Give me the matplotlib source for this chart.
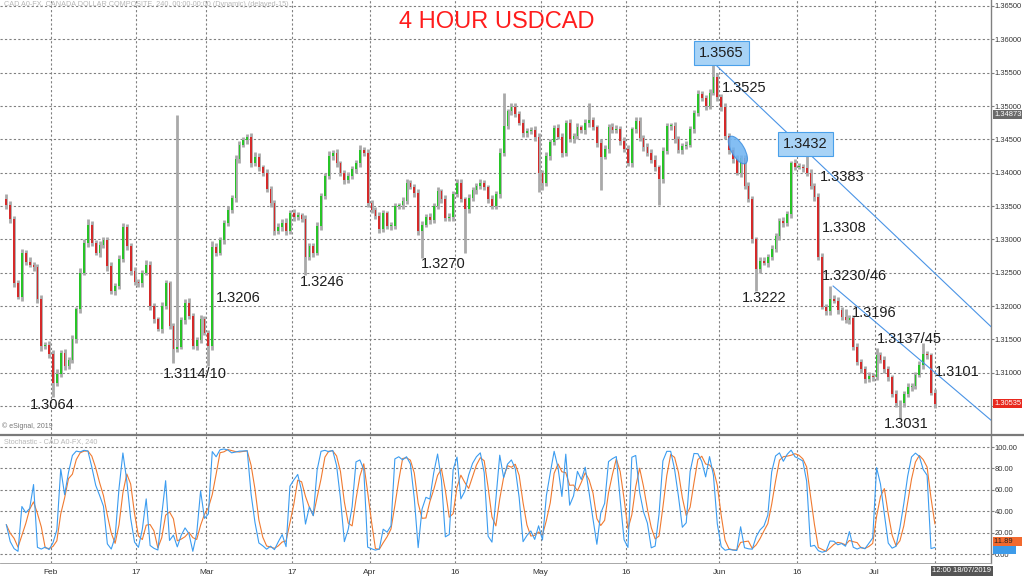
import numpy as np
import pandas as pd
import matplotlib
matplotlib.use('Agg')
import matplotlib.pyplot as plt
from matplotlib.patches import Ellipse
import matplotlib.transforms as mtransforms

plt.rcParams['font.family'] = ['Liberation Sans', 'DejaVu Sans']

# ---------------- data (half-day candles) ----------------
start_date = '2019-01-24'
first_open = 1.3360
closes = [
    1.3352, 1.3330, 1.3235, 1.3214, 1.3279, 1.3266, 1.3262, 1.3258, 1.3210, 1.3140,
    1.3142, 1.3128, 1.3085, 1.3098, 1.3130, 1.3110, 1.3119, 1.3150, 1.3195, 1.3250,
    1.3295, 1.3322, 1.3295, 1.3280, 1.3292, 1.3299, 1.3260, 1.3222, 1.3230, 1.3270,
    1.3318, 1.3290, 1.3252, 1.3236, 1.3234, 1.3250, 1.3262, 1.3200, 1.3180, 1.3166,
    1.3200, 1.3234, 1.3170, 1.3136, 1.3139, 1.3179, 1.3205, 1.3185, 1.3140, 1.3149,
    1.3180, 1.3160, 1.3140, 1.3289, 1.3280, 1.3299, 1.3325, 1.3344, 1.3362, 1.3420,
    1.3442, 1.3449, 1.3454, 1.3414, 1.3424, 1.3408, 1.3400, 1.3375, 1.3355, 1.3312,
    1.3319, 1.3325, 1.3312, 1.3340, 1.3334, 1.3336, 1.3330, 1.3274, 1.3290, 1.3280,
    1.3320, 1.3365, 1.3395, 1.3425, 1.3429, 1.3414, 1.3399, 1.3389, 1.3395, 1.3406,
    1.3414, 1.3434, 1.3429, 1.3354, 1.3344, 1.3335, 1.3316, 1.3339, 1.3320, 1.3320,
    1.3350, 1.3351, 1.3358, 1.3384, 1.3379, 1.3369, 1.3312, 1.3322, 1.3334, 1.3329,
    1.3350, 1.3372, 1.3360, 1.3332, 1.3334, 1.3368, 1.3385, 1.3360, 1.3345, 1.3362,
    1.3374, 1.3380, 1.3384, 1.3378, 1.3360, 1.3350, 1.3368, 1.3430, 1.3470, 1.3492,
    1.3499, 1.3488, 1.3475, 1.3459, 1.3462, 1.3464, 1.3454, 1.3400, 1.3384, 1.3425,
    1.3446, 1.3467, 1.3454, 1.3430, 1.3475, 1.3450, 1.3455, 1.3468, 1.3464, 1.3474,
    1.3479, 1.3468, 1.3445, 1.3424, 1.3436, 1.3469, 1.3464, 1.3466, 1.3448, 1.3436,
    1.3414, 1.3465, 1.3478, 1.3452, 1.3438, 1.3430, 1.3419, 1.3408, 1.3390, 1.3432,
    1.3470, 1.3470, 1.3450, 1.3434, 1.3440, 1.3442, 1.3465, 1.3490, 1.3518, 1.3512,
    1.3500, 1.3520, 1.3544, 1.3514, 1.3498, 1.3455, 1.3434, 1.3420, 1.3400, 1.3422,
    1.3380, 1.3360, 1.3300, 1.3255, 1.3268, 1.3265, 1.3274, 1.3285, 1.3305, 1.3328,
    1.3324, 1.3338, 1.3414, 1.3409, 1.3409, 1.3407, 1.3400, 1.3380, 1.3364, 1.3274,
    1.3199, 1.3192, 1.3210, 1.3208, 1.3194, 1.3184, 1.3179, 1.3182, 1.3139, 1.3116,
    1.3106, 1.3090, 1.3095, 1.3094, 1.3127, 1.3119, 1.3105, 1.3093, 1.3068, 1.3054,
    1.3054, 1.3068, 1.3079, 1.3080, 1.3097, 1.3112, 1.3128, 1.3126, 1.3070, 1.30535,
]
# upper / lower shadow lengths in pips
wick_up = [
    8, 6, 5, 4, 6, 5, 7, 4, 5, 6, 4, 5, 6, 7, 4, 6, 5, 6, 4, 7,
    6, 8, 5, 4, 6, 5, 4, 6, 5, 7, 6, 5, 4, 6, 5, 4, 7, 6, 5, 4,
    6, 5, 4, 5, 348, 5, 6, 7, 5, 4, 6, 5, 4, 8, 6, 5, 4, 6, 5, 7,
    6, 5, 4, 6, 7, 5, 4, 6, 5, 4, 6, 5, 7, 4, 6, 5, 4, 6, 5, 4,
    6, 5, 4, 7, 5, 6, 4, 5, 6, 4, 5, 7, 4, 6, 5, 4, 6, 5, 4, 6,
    5, 4, 6, 7, 5, 4, 6, 5, 4, 6, 5, 7, 4, 6, 5, 4, 6, 5, 4, 6,
    5, 4, 6, 5, 4, 6, 5, 7, 50, 4, 6, 5, 4, 6, 5, 4, 6, 5, 4, 6,
    5, 4, 6, 5, 4, 6, 5, 7, 4, 6, 26, 5, 4, 6, 5, 4, 6, 5, 4, 6,
    5, 4, 6, 5, 4, 6, 5, 7, 4, 6, 5, 4, 6, 5, 4, 6, 5, 4, 6, 5,
    4, 6, 21, 5, 4, 6, 5, 4, 6, 5, 4, 6, 5, 4, 6, 5, 4, 6, 5, 4,
    6, 5, 4, 6, 5, 4, 25, 5, 4, 6, 5, 4, 20, 6, 5, 4, 12, 5, 4, 6,
    5, 4, 6, 5, 10, 4, 6, 5, 4, 6, 5, 4, 6, 5, 4, 6, 17, 5, 4, 6,
]
wick_dn = [
    6, 5, 7, 4, 6, 5, 4, 6, 5, 7, 4, 6, 21, 5, 4, 6, 5, 4, 6, 5,
    4, 6, 5, 4, 6, 5, 7, 4, 6, 5, 4, 6, 5, 4, 6, 5, 4, 6, 5, 4,
    6, 5, 4, 22, 5, 4, 6, 5, 4, 6, 5, 4, 30, 6, 5, 4, 6, 5, 4, 6,
    5, 4, 6, 5, 4, 6, 5, 4, 6, 5, 4, 6, 5, 4, 6, 5, 4, 28, 5, 6,
    4, 6, 5, 4, 6, 5, 4, 6, 5, 4, 6, 5, 4, 6, 5, 4, 6, 5, 4, 6,
    5, 4, 6, 5, 4, 6, 5, 40, 4, 6, 5, 4, 6, 5, 4, 6, 5, 4, 65, 5,
    4, 6, 5, 4, 6, 5, 4, 6, 5, 4, 6, 5, 4, 6, 5, 4, 6, 29, 10, 4,
    6, 5, 4, 6, 5, 4, 6, 5, 4, 6, 5, 4, 6, 50, 4, 6, 5, 4, 6, 5,
    4, 6, 5, 4, 6, 5, 4, 6, 39, 5, 4, 6, 5, 4, 6, 5, 4, 6, 5, 4,
    6, 5, 4, 6, 5, 4, 6, 5, 4, 6, 5, 4, 6, 33, 5, 4, 6, 5, 4, 6,
    5, 4, 6, 5, 4, 6, 5, 4, 6, 5, 4, 6, 5, 4, 6, 5, 4, 6, 5, 4,
    6, 5, 4, 6, 5, 4, 6, 5, 4, 6, 23, 5, 4, 6, 5, 4, 6, 5, 4, 6,
]

price_ticks = [1.305, 1.310, 1.315, 1.320, 1.325, 1.330, 1.335,
               1.340, 1.345, 1.350, 1.355, 1.360, 1.365]
stoch_ticks = [0, 20, 40, 60, 80, 100]
tick_dates = ['2019-02-01', '2019-02-18', '2019-03-01', '2019-03-18', '2019-04-01',
              '2019-04-16', '2019-05-01', '2019-05-16', '2019-06-03', '2019-06-17',
              '2019-07-01']
tick_labels = ['Feb', '17', 'Mar', '17', 'Apr', '16', 'May', '16', 'Jun', '16', 'Jul']

# (text, bar index, price, boxed)
notes = [
    ('1.3064', 6.1, 1.30515, False),
    ('1.3114/10', 40.3, 1.30980, False),
    ('1.3206', 54.0, 1.32120, False),
    ('1.3246', 75.6, 1.32360, False),
    ('1.3270', 106.7, 1.32630, False),
    ('1.3565', 178.3, 1.35795, True),
    ('1.3525', 184.2, 1.35270, False),
    ('1.3432', 199.9, 1.34430, True),
    ('1.3383', 209.4, 1.33935, False),
    ('1.3308', 210.0, 1.33170, False),
    ('1.3230/46', 210.0, 1.32450, False),
    ('1.3196', 217.7, 1.31895, False),
    ('1.3222', 189.4, 1.32120, False),
    ('1.3137/45', 224.1, 1.31505, False),
    ('1.3101', 239.0, 1.31010, False),
    ('1.3031', 225.9, 1.30230, False),
]
trend_upper = [(182, 1.3565), (206, 1.3432)]
trend_lower = [(212.8, 1.3230), (253.4, 1.3029)]
ellipse_center = (188.3, 1.3434)
cursor_price = 1.34873
stoch_tag_value = 11.89

# ---------------- derived ----------------
n = len(closes)
x = np.arange(n)
c = np.array(closes)
o = np.array([first_open] + closes[:-1])
hi = np.maximum(o, c) + np.array(wick_up) / 10000.0
lo = np.minimum(o, c) - np.array(wick_dn) / 10000.0

days = pd.bdate_range(start_date, periods=(n + 1) // 2)
def date_pos(d):
    return 2 * days.get_loc(pd.Timestamp(d)) - 0.5
tick_pos = [date_pos(d) for d in tick_dates]

# stochastic (%K over 5 half-day bars, %D = 3-bar mean)
hh = pd.Series(hi).rolling(5, min_periods=1).max()
ll = pd.Series(lo).rolling(5, min_periods=1).min()
stoch_k = 100 * (pd.Series(c) - ll) / (hh - ll)
stoch_d = stoch_k.rolling(3, min_periods=1).mean()

# ---------------- figure ----------------
W, H = 1024, 576
fig = plt.figure(figsize=(W / 100, H / 100), dpi=100)
fig.patch.set_facecolor('white')

def fx(px):
    return px / W
def fy(py):
    return 1 - py / H

axR = 991
ax = fig.add_axes([0, fy(434), fx(axR), 434 / H])
ax2 = fig.add_axes([0, fy(563), fx(axR), (563 - 436) / H])

ppx = 6667.0
ax.set_ylim(1.365 - 428 / ppx, 1.365 + 6 / ppx)
xl = (-6.35 / 3.885, (axR - 6.35) / 3.885)
ax.set_xlim(*xl)
ax2.set_xlim(*xl)
ax2.set_ylim(-8.4, 110.3)

grid_kw = dict(color='#808080', lw=0.8, ls=(0, (2, 2)), zorder=0)
for t in price_ticks:
    ax.axhline(t, **grid_kw)
for t in stoch_ticks:
    ax2.axhline(t, **grid_kw)
for p in tick_pos + [n - 1]:
    ax.axvline(p, **grid_kw)
    ax2.axvline(p, **grid_kw)

# candles
ax.vlines(x, lo, hi, color='#a9a9a9', lw=2.0, zorder=2)
up = c >= o
body = np.maximum(np.abs(c - o), 0.00012)
ax.bar(x[up], body[up], bottom=o[up], width=0.45, color='#27c427', zorder=3, linewidth=0)
ax.bar(x[~up], body[~up], bottom=c[~up], width=0.45, color='#d42a2a', zorder=3, linewidth=0)

# trend lines
for (x0, p0), (x1, p1) in [trend_upper, trend_lower]:
    s = (p1 - p0) / (x1 - x0)
    ax.plot([x0, xl[1]], [p0, p0 + s * (xl[1] - x0)], color='#4a94e6', lw=0.8, zorder=4)

# ellipse highlight
ell = Ellipse((0, 0), 13, 31, angle=30, facecolor='#6db3f2', edgecolor='#3d8fe0',
              alpha=0.85, lw=0.8,
              transform=mtransforms.ScaledTranslation(ellipse_center[0], ellipse_center[1], ax.transData),
              zorder=5)
ax.add_artist(ell)

# annotations
for txt, xi, p, boxed in notes:
    kw = dict(fontsize=10.5, color='#1e1e1e', ha='left', va='center', zorder=6)
    if boxed:
        kw['bbox'] = dict(boxstyle='square,pad=0.35', facecolor='#a8d3f6', edgecolor='#4aa0ea', lw=0.8)
    ax.text(xi, p, txt, **kw)

# axes cosmetics
for a in (ax, ax2):
    for s in ('left', 'top', 'bottom'):
        a.spines[s].set_visible(False)
    a.spines['right'].set_color('#808080')
    a.spines['right'].set_linewidth(1.0)
    a.yaxis.tick_right()
    a.tick_params(axis='y', labelsize=5.4, labelcolor='#333333', length=2, color='#808080', pad=0.8)
ax.set_yticks(price_ticks)
# the lowest price label sits under the last-price tag, as in the original
ax.set_yticklabels(['' if abs(t - closes[-1]) < 0.001 else f'{t:.5f}' for t in price_ticks])
ax.set_xticks([])
ax2.set_yticks(stoch_ticks)
ax2.set_yticklabels([f'{t:.2f}' for t in stoch_ticks])
ax2.set_xticks(tick_pos)
ax2.set_xticklabels(tick_labels)
ax2.tick_params(axis='x', labelsize=6, labelcolor='#333333', length=0, pad=4)

# stochastic lines
ax2.plot(x, stoch_d, color='#f07a30', lw=0.8, zorder=3)
ax2.plot(x, stoch_k, color='#3b9cf0', lw=0.8, zorder=4)

# right-hand price tags
bt = mtransforms.blended_transform_factory(ax.transAxes, ax.transData)
tag_kw = dict(transform=bt, fontsize=5.4, va='center', ha='left', clip_on=False, zorder=7)
ax.text(1.003, cursor_price, f'{cursor_price:.5f}', color='white',
        bbox=dict(boxstyle='square,pad=0.12', facecolor='#6a6a6a', edgecolor='none'), **tag_kw)
ax.text(1.003, closes[-1], f'{closes[-1]:.5f}', color='white',
        bbox=dict(boxstyle='square,pad=0.12', facecolor='#e8281e', edgecolor='none'), **tag_kw)
bt2 = mtransforms.blended_transform_factory(ax2.transAxes, ax2.transData)
tag_kw2 = dict(transform=bt2, fontsize=5.4, va='center', ha='left', clip_on=False)
ax2.text(1.003, stoch_tag_value - 8, '          ', color='white', zorder=7,
         bbox=dict(boxstyle='square,pad=0.12', facecolor='#3d9be9', edgecolor='none'), **tag_kw2)
ax2.text(1.003, stoch_tag_value, f'{stoch_tag_value:.2f}    ', color='#222222', zorder=8,
         bbox=dict(boxstyle='square,pad=0.12', facecolor='#f2692e', edgecolor='none'), **tag_kw2)

# panel separators
fig.add_artist(plt.Line2D([0, 1], [fy(435), fy(435)], color='#7a7a7a', lw=1.6))
fig.add_artist(plt.Line2D([0, fx(axR)], [fy(563), fy(563)], color='#9a9a9a', lw=0.6))

# texts
fig.text(fx(497), fy(22), '4 HOUR USDCAD', color='#ff1c1c', fontsize=17, ha='center', va='center')
fig.text(fx(4), fy(5), 'CAD A0-FX, CANADA DOLLAR COMPOSITE, 240, 00:00-00:00 (Dynamic) (delayed-15)',
         fontsize=5.2, color='#b8b8b8', ha='left', va='center')
fig.text(fx(2), fy(426), '\u00a9 eSignal, 2019', fontsize=5, color='#777777', ha='left', va='center')
fig.text(fx(4), fy(442), 'Stochastic - CAD A0-FX, 240', fontsize=5.2, color='#b8b8b8', ha='left', va='center')
fig.text(fx(962), fy(571), '12:00 18/07/2019', fontsize=5.5, color='white', ha='center', va='center',
         bbox=dict(boxstyle='square,pad=0.25', facecolor='#555555', edgecolor='none'))

fig.savefig('out.png', dpi=100, facecolor='white')
